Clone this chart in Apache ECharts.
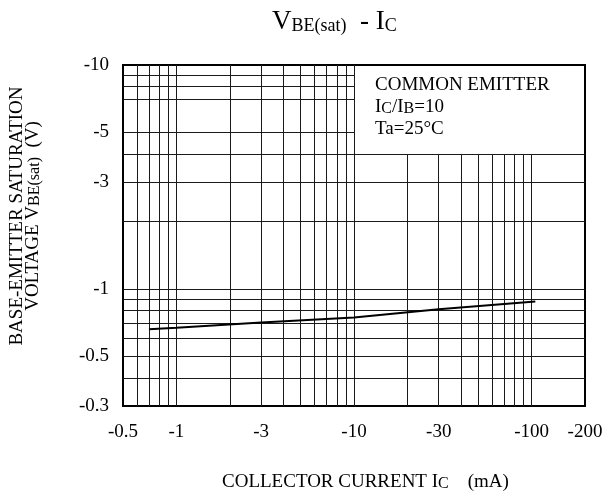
<!DOCTYPE html>
<html><head><meta charset="utf-8">
<script src="https://cdn.jsdelivr.net/npm/echarts@6/dist/echarts.min.js"></script>
<style>html,body{margin:0;padding:0;background:#fff}#c{width:615px;height:500px}</style>
</head><body><div id="c"></div>
<script>
// Data (magnitudes; the chart labels them as negative values)
const currentMA = [0.7, 1, 3, 10, 30, 105];
const vbeSatMag = [0.66, 0.67, 0.708, 0.746, 0.812, 0.879];

// Tick labels
const xTicks = [0.5, 1, 3, 10, 30, 100, 200];
const yTicks = [0.3, 0.5, 1, 3, 5, 10];

// Grid line values
const xGridFull = [0.6, 0.7, 0.8, 0.9, 1, 2, 3, 4, 5, 6, 7, 8, 9, 10];
const xGridShort = [20, 30, 40, 50, 60, 70, 80, 90, 100];
const yGridShort = [9, 8, 7, 5];
const yGridFull = [4, 3, 2, 1, 0.9, 0.8, 0.7, 0.6, 0.5, 0.4];

const xMin = 0.5, xMax = 200, yMin = 0.3, yMax = 10;
const boxLeft = 10, boxBottom = 4;

const serif = '"Liberation Serif", "Times New Roman", serif';

const gridLines = [];
xGridFull.forEach(x => gridLines.push([{coord: [x, yMin]}, {coord: [x, yMax]}]));
xGridShort.forEach(x => gridLines.push([{coord: [x, yMin]}, {coord: [x, boxBottom]}]));
yGridShort.forEach(y => gridLines.push([{coord: [xMin, y]}, {coord: [boxLeft, y]}]));
yGridFull.forEach(y => gridLines.push([{coord: [xMin, y]}, {coord: [xMax, y]}]));

const chart = echarts.init(document.getElementById('c'));
chart.setOption({
  animation: false,
  backgroundColor: '#fff',
  grid: {left: 123, right: 30, top: 65, bottom: 94, show: true, borderColor: '#000', borderWidth: 2, backgroundColor: 'transparent'},
  xAxis: {
    type: 'log', logBase: 10, min: xMin, max: xMax,
    axisLine: {show: true, lineStyle: {color: '#000', width: 2}},
    axisTick: {show: false}, splitLine: {show: false}, minorTick: {show: false}, minorSplitLine: {show: false},
    axisLabel: {customValues: xTicks, formatter: v => '-' + v, fontFamily: serif, fontSize: 19, color: '#000', margin: 17}
  },
  yAxis: {
    type: 'log', logBase: 10, min: yMin, max: yMax,
    axisLine: {show: true, lineStyle: {color: '#000', width: 2}},
    axisTick: {show: false}, splitLine: {show: false}, minorTick: {show: false}, minorSplitLine: {show: false},
    axisLabel: {customValues: yTicks, formatter: v => '-' + v, fontFamily: serif, fontSize: 19, color: '#000', margin: 14}
  },
  series: [{
    type: 'line',
    data: currentMA.map((x, i) => [x, vbeSatMag[i]]),
    showSymbol: false, symbol: 'none',
    lineStyle: {color: '#000', width: 2},
    emphasis: {disabled: true},
    z: 5,
    markLine: {
      silent: true, symbol: ['none', 'none'], label: {show: false},
      lineStyle: {color: '#1a1a1a', width: 1, type: 'solid'},
      emphasis: {disabled: true},
      animation: false,
      data: gridLines
    }
  }],
  graphic: [
    {type: 'text', left: 272, top: 8, style: {
      text: '{v|V}{s|BE(sat)}{v|  - I}{s|C}', fill: '#000',
      rich: {
        v: {fontFamily: serif, fontSize: 27, lineHeight: 36, verticalAlign: 'bottom'},
        s: {fontFamily: serif, fontSize: 18, lineHeight: 14, verticalAlign: 'bottom'}
      }}},
    {type: 'text', left: 375, top: 76, style: {
      text: '{t|COMMON EMITTER}\n{t|I}{s|C}{t|/I}{s|B}{t|=10}\n{t|Ta=25°C}', fill: '#000',
      rich: {
        t: {fontFamily: serif, fontSize: 19, lineHeight: 22, verticalAlign: 'bottom'},
        s: {fontFamily: serif, fontSize: 16, lineHeight: 6, verticalAlign: 'bottom'}
      }}},
    {type: 'text', left: 222, top: 473, style: {
      text: '{t|COLLECTOR CURRENT I}{s|C}{t|    (mA)}', fill: '#000',
      rich: {
        t: {fontFamily: serif, fontSize: 19, lineHeight: 24, verticalAlign: 'bottom'},
        s: {fontFamily: serif, fontSize: 16, lineHeight: 6, verticalAlign: 'bottom'}
      }}},
    {type: 'text', x: 27, y: 216, rotation: Math.PI / 2, style: {
      text: '{t|BASE-EMITTER SATURATION}\n{t|VOLTAGE V}{s|BE(sat)}{t|  (V)}', fill: '#000',
      align: 'center', verticalAlign: 'middle',
      rich: {
        t: {fontFamily: serif, fontSize: 19, lineHeight: 16, verticalAlign: 'bottom', align: 'center'},
        s: {fontFamily: serif, fontSize: 16, lineHeight: 4, verticalAlign: 'bottom', align: 'center'}
      }}}
  ]
});
</script></body></html>
